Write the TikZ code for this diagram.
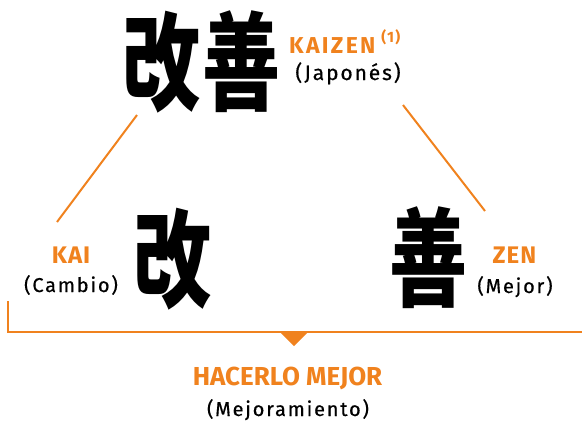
\documentclass[tikz,border=0pt]{standalone}
\usepackage{fontspec}
\setmainfont{Fira Sans}
\newfontfamily\cjk{Noto Sans CJK JP}
\definecolor{kzorange}{HTML}{F0821E}
\tikzset{
  kanji/.style={inner sep=0pt, font=\fontsize{107}{107}\cjk\bfseries},
  orangelbl/.style={inner sep=0pt, text=kzorange},
  blacklbl/.style={inner sep=0pt, text=black},
  orangeline/.style={draw=kzorange, line width=2pt}
}
\newcommand{\narrowk}[1]{\scalebox{0.73}[1]{#1}}
\newcommand{\osz}[2]{\fontsize{#1}{#1}\selectfont\bfseries\addfontfeatures{LetterSpace=#2}}
\newcommand{\bsz}[2]{\fontsize{#1}{#1}\selectfont\addfontfeatures{LetterSpace=#2,FakeBold=0.6}}
\begin{document}
\begin{tikzpicture}[x=1pt,y=-1pt]
\useasboundingbox (0,0) rectangle (582,421);
% top kanji
\node[kanji] (tkai) at (161.5,62.5) {\narrowk{改}};
\node[kanji] (tzen) at (242,61.5) {\narrowk{善}};
% bottom kanji
\node[kanji] (bkai) at (173,259.5) {\narrowk{改}};
\node[kanji] (bzen) at (428.5,258) {\narrowk{善}};
% labels
\node[orangelbl, anchor=base west, font=\osz{23}{10}] (kaizen) at (289,53) {KAIZEN\hspace{6pt}\raisebox{0.45em}{\osz{15}{8}(1)}};
\node[blacklbl, anchor=base, font=\bsz{21}{9}] (japones) at (348,80) {(Japonés)};
\node[orangelbl, anchor=base, font=\osz{24}{4}] (kai) at (71,263) {KAI};
\node[blacklbl, anchor=base, font=\bsz{20}{9}] (cambio) at (71,292) {(Cambio)};
\node[orangelbl, anchor=base, font=\osz{24}{4}] (zen) at (514.5,263) {ZEN};
\node[blacklbl, anchor=base, font=\bsz{20}{9}] (mejor) at (515,293) {(Mejor)};
\node[orangelbl, anchor=base, font=\osz{26}{0}] (hacerlo) at (287.5,385) {HACERLO MEJOR};
\node[blacklbl, anchor=base, font=\bsz{20}{9}] (mejoramiento) at (288,416) {(Mejoramiento)};
% connector end points
\coordinate (l1) at (137,115);
\coordinate (l2) at (57,222);
\coordinate (r1) at (403,105);
\coordinate (r2) at (485,211);
\draw[orangeline] (l1) -- (l2);
\draw[orangeline] (r1) -- (r2);
% bracket
\coordinate (bl) at (8,302);
\coordinate (bc) at (8,332);
\coordinate (br) at (582,332);
\draw[orangeline, line cap=rect] (bl) -- (bc) -- (br);
\coordinate (tp) at (294,346);
\fill[kzorange] (280,332) -- (308,332) -- (tp) -- cycle;
\end{tikzpicture}
\end{document}
